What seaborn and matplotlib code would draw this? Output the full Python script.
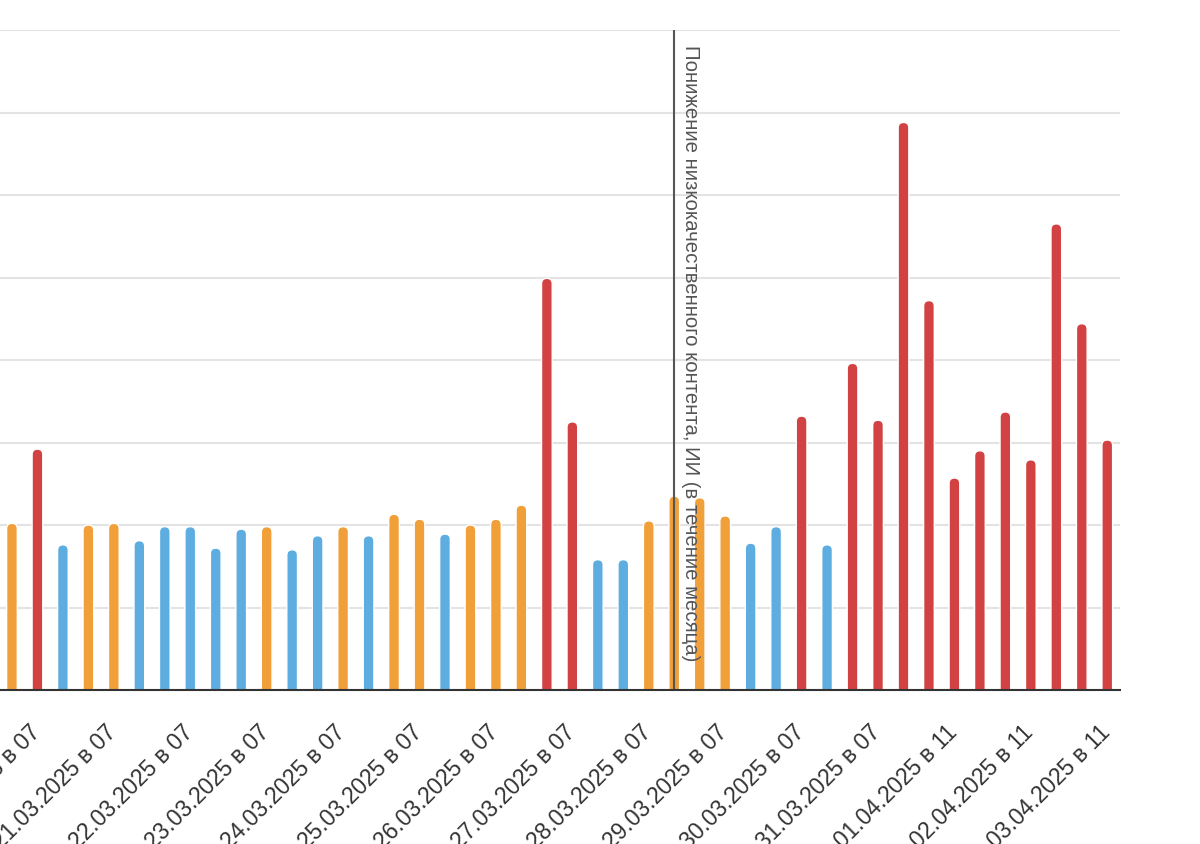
import pandas as pd
import numpy as np
import matplotlib
matplotlib.use("Agg")
import matplotlib.pyplot as plt
import matplotlib.transforms as mtransforms
import seaborn as sns
from matplotlib.patches import FancyBboxPatch

# values (one unit = one grid step)
values = [
    2.02, 2.92, 1.76, 2.00, 2.02, 1.81, 1.98, 1.98, 1.72, 1.95, 1.98,
    1.70, 1.87, 1.98, 1.87, 2.13, 2.07, 1.89, 2.00, 2.07, 2.24, 4.99,
    3.25, 1.58, 1.58, 2.05, 2.35, 2.33, 2.11, 1.78, 1.98, 3.32, 1.76,
    3.96, 3.27, 6.88, 4.72, 2.57, 2.90, 3.37, 2.79, 5.65, 4.44, 3.03,
]
levels = [
    'o', 'r', 'b', 'o', 'o', 'b', 'b', 'b', 'b', 'b', 'o',
    'b', 'b', 'o', 'b', 'o', 'o', 'b', 'o', 'o', 'o', 'r',
    'r', 'b', 'b', 'o', 'o', 'o', 'o', 'b', 'b', 'r', 'b',
    'r', 'r', 'r', 'r', 'r', 'r', 'r', 'r', 'r', 'r', 'r',
]
tick_labels = [
    '20.03.2025 в 07', '21.03.2025 в 07', '22.03.2025 в 07', '23.03.2025 в 07',
    '24.03.2025 в 07', '25.03.2025 в 07', '26.03.2025 в 07', '27.03.2025 в 07',
    '28.03.2025 в 07', '29.03.2025 в 07', '30.03.2025 в 07', '31.03.2025 в 07',
    '01.04.2025 в 11', '02.04.2025 в 11', '03.04.2025 в 11',
]
tick_pos = list(range(1, len(values), 3))
event_pos = 25.99
event_label = 'Понижение низкокачественного контента, ИИ (в течение месяца)'

palette = {'b': '#5DADE0', 'o': '#F19F38', 'r': '#D34242'}

df = pd.DataFrame({'slot': range(len(values)), 'value': values, 'level': levels})

sns.set_style('white')
plt.rcParams['font.family'] = ['Liberation Sans', 'DejaVu Sans']

fig = plt.figure(figsize=(12, 8.44), dpi=100)
ax = fig.add_axes([0.0, 154 / 844, 1120 / 1200, 660 / 844])

sns.barplot(data=df, x='slot', y='value', hue='level', palette=palette,
            dodge=False, width=0.42, saturation=1, legend=False, ax=ax)

xlim = (-0.47, len(values) - 0.5)
ylim = (0, 8)
ax.set_xlim(*xlim)
ax.set_ylim(*ylim)

# rounded tops like the original
x_per_px = (xlim[1] - xlim[0]) / 1120
y_per_px = (ylim[1] - ylim[0]) / 660
aspect = y_per_px / x_per_px
for p in list(ax.patches):
    x, y = p.get_x(), p.get_y()
    w, h = p.get_width(), p.get_height()
    fc = p.get_facecolor()
    p.remove()
    r = w / 2
    ax.add_patch(FancyBboxPatch((x, y - r * aspect * 2), w, h + r * aspect * 2,
                                boxstyle=f'round,pad=0,rounding_size={r}',
                                mutation_aspect=aspect, fc=fc, ec='white',
                                lw=1, zorder=2))

ax.set_yticks(np.arange(0, 9, 1))
ax.yaxis.grid(True, color='#e3e3e3', lw=1.5, zorder=0)
ax.set_axisbelow(True)
ax.tick_params(axis='y', left=False, labelleft=False)
ax.set_xticks(tick_pos)
ax.set_xticklabels(tick_labels, rotation=45, ha='right', rotation_mode='anchor',
                   fontsize=16.5, color='#333333')
ax.tick_params(axis='x', length=0, pad=22)
shift = mtransforms.ScaledTranslation(-9 / 100, 0, fig.dpi_scale_trans)
for lab in ax.get_xticklabels():
    lab.set_transform(lab.get_transform() + shift)
ax.set_xlabel('')
ax.set_ylabel('')

for s in ['top', 'right', 'left']:
    ax.spines[s].set_visible(False)
ax.spines['bottom'].set_color('#333333')
ax.spines['bottom'].set_linewidth(1.5)
ax.spines['bottom'].set_zorder(5)

ax.axvline(event_pos, color='#555555', lw=1.5, zorder=4)
ax.text(event_pos + 0.26, 7.82, event_label, rotation=-90, ha='left', va='top',
        fontsize=14.7, color='#555555', zorder=6)

fig.savefig('out.png', dpi=100)
